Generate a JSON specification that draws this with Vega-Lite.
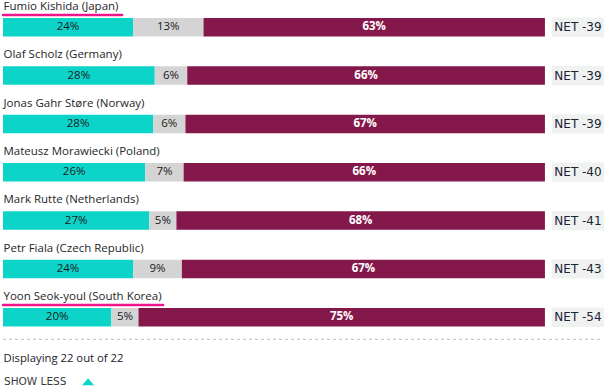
{
  "$schema": "https://vega.github.io/schema/vega-lite/v6.json",
  "autosize": "none",
  "width": 601,
  "height": 386.67,
  "padding": {"left": 3, "top": 0, "right": 6, "bottom": 5.33},
  "background": "white",
  "config": {"view": {"stroke": null}},
  "datasets": {
    "segments": [
      {"name": "Fumio Kishida (Japan)", "k": 1, "pct": 0.24},
      {"name": "Fumio Kishida (Japan)", "k": 2, "pct": 0.13},
      {"name": "Fumio Kishida (Japan)", "k": 3, "pct": 0.63},
      {"name": "Olaf Scholz (Germany)", "k": 1, "pct": 0.28},
      {"name": "Olaf Scholz (Germany)", "k": 2, "pct": 0.06},
      {"name": "Olaf Scholz (Germany)", "k": 3, "pct": 0.66},
      {"name": "Jonas Gahr Støre (Norway)", "k": 1, "pct": 0.28},
      {"name": "Jonas Gahr Støre (Norway)", "k": 2, "pct": 0.06},
      {"name": "Jonas Gahr Støre (Norway)", "k": 3, "pct": 0.67},
      {"name": "Mateusz Morawiecki (Poland)", "k": 1, "pct": 0.26},
      {"name": "Mateusz Morawiecki (Poland)", "k": 2, "pct": 0.07},
      {"name": "Mateusz Morawiecki (Poland)", "k": 3, "pct": 0.66},
      {"name": "Mark Rutte (Netherlands)", "k": 1, "pct": 0.27},
      {"name": "Mark Rutte (Netherlands)", "k": 2, "pct": 0.05},
      {"name": "Mark Rutte (Netherlands)", "k": 3, "pct": 0.68},
      {"name": "Petr Fiala (Czech Republic)", "k": 1, "pct": 0.24},
      {"name": "Petr Fiala (Czech Republic)", "k": 2, "pct": 0.09},
      {"name": "Petr Fiala (Czech Republic)", "k": 3, "pct": 0.67},
      {"name": "Yoon Seok-youl (South Korea)", "k": 1, "pct": 0.20},
      {"name": "Yoon Seok-youl (South Korea)", "k": 2, "pct": 0.05},
      {"name": "Yoon Seok-youl (South Korea)", "k": 3, "pct": 0.75}
    ],
    "leaders": [
      {"name": "Fumio Kishida (Japan)", "net": -39, "highlight": true},
      {"name": "Olaf Scholz (Germany)", "net": -39, "highlight": false},
      {"name": "Jonas Gahr Støre (Norway)", "net": -39, "highlight": false},
      {"name": "Mateusz Morawiecki (Poland)", "net": -40, "highlight": false},
      {"name": "Mark Rutte (Netherlands)", "net": -41, "highlight": false},
      {"name": "Petr Fiala (Czech Republic)", "net": -43, "highlight": false},
      {"name": "Yoon Seok-youl (South Korea)", "net": -54, "highlight": true}
    ],
    "footer": [
      {"name": "footer", "text": "Displaying 22 out of 22", "button": "SHOW LESS"}
    ]
  },
  "encoding": {
    "y": {
      "field": "name",
      "type": "nominal",
      "axis": null,
      "sort": null,
      "scale": {
        "domain": [
          "Fumio Kishida (Japan)",
          "Olaf Scholz (Germany)",
          "Jonas Gahr Støre (Norway)",
          "Mateusz Morawiecki (Poland)",
          "Mark Rutte (Netherlands)",
          "Petr Fiala (Czech Republic)",
          "Yoon Seok-youl (South Korea)",
          "footer"
        ],
        "paddingInner": 0,
        "paddingOuter": 0
      }
    }
  },
  "layer": [
    {
      "data": {"name": "segments"},
      "mark": {"type": "bar", "height": {"band": 0.383}, "yOffset": 3.1},
      "encoding": {
        "x": {
          "field": "pct",
          "type": "quantitative",
          "stack": "normalize",
          "axis": null,
          "scale": {"domain": [0, 1.109], "nice": false, "zero": false}
        },
        "order": {"field": "k", "type": "quantitative"},
        "color": {
          "field": "k",
          "type": "nominal",
          "legend": null,
          "scale": {"domain": [1, 2, 3], "range": ["#0dd4c9", "#d4d4d4", "#84184a"]}
        }
      }
    },
    {
      "data": {"name": "segments"},
      "mark": {"type": "text", "font": "Open Sans", "fontSize": 11.5, "color": "#1a1a1a", "baseline": "middle", "yOffset": 3.1},
      "encoding": {
        "x": {"field": "pct", "type": "quantitative", "stack": "normalize", "bandPosition": 0.5},
        "order": {"field": "k", "type": "quantitative"},
        "text": {"field": "pct", "type": "quantitative", "format": ".0%"},
        "opacity": {"condition": {"test": "datum.k === 3", "value": 0}, "value": 1}
      }
    },
    {
      "data": {"name": "segments"},
      "mark": {"type": "text", "font": "Open Sans", "fontSize": 11.5, "fontWeight": "bold", "color": "white", "baseline": "middle", "yOffset": 3.1},
      "encoding": {
        "x": {"field": "pct", "type": "quantitative", "stack": "normalize", "bandPosition": 0.5},
        "order": {"field": "k", "type": "quantitative"},
        "text": {"field": "pct", "type": "quantitative", "format": ".0%"},
        "opacity": {"condition": {"test": "datum.k === 3", "value": 1}, "value": 0}
      }
    },
    {
      "data": {"name": "leaders"},
      "mark": {"type": "bar", "height": {"band": 0.4}, "yOffset": 3.1, "color": "#f0f2f2"},
      "encoding": {
        "x": {"datum": 1.0125},
        "x2": {"datum": 1.109}
      }
    },
    {
      "data": {"name": "leaders"},
      "mark": {"type": "text", "font": "DejaVu Sans", "fontSize": 12, "color": "#1b2635", "baseline": "middle", "align": "center", "yOffset": 3.1, "text": {"expr": "'NET ' + datum.net"}},
      "encoding": {
        "x": {"datum": 1.061}
      }
    },
    {
      "data": {"name": "leaders"},
      "transform": [{"filter": "datum.highlight"}],
      "mark": {"type": "rule", "color": "#f0148c", "strokeWidth": 2.5, "strokeCap": "round"},
      "encoding": {
        "y": {"field": "name", "type": "nominal", "bandPosition": 0.31},
        "x": {"datum": 0},
        "x2": {"value": {"expr": "length(datum.name) * 5.86 - 4"}}
      }
    },
    {
      "data": {"name": "leaders"},
      "mark": {"type": "text", "font": "Open Sans", "fontSize": 11.5, "color": "#262626", "baseline": "alphabetic", "align": "left", "dx": 0.5},
      "encoding": {
        "y": {"field": "name", "type": "nominal", "bandPosition": 0.205},
        "x": {"datum": 0},
        "text": {"field": "name"}
      }
    },
    {
      "data": {"name": "footer"},
      "mark": {"type": "rule", "color": "#bbbbbb", "strokeWidth": 1, "strokeDash": [3, 3]},
      "encoding": {
        "y": {"field": "name", "type": "nominal", "bandPosition": 0.02},
        "x": {"datum": 0},
        "x2": {"datum": 1.1015}
      }
    },
    {
      "data": {"name": "footer"},
      "mark": {"type": "text", "font": "Open Sans", "fontSize": 11.3, "color": "#1a1a2a", "baseline": "middle", "align": "left", "dx": 0.5},
      "encoding": {
        "y": {"field": "name", "type": "nominal", "bandPosition": 0.42},
        "x": {"datum": 0},
        "text": {"field": "text"}
      }
    },
    {
      "data": {"name": "footer"},
      "mark": {"type": "text", "font": "DejaVu Sans", "fontSize": 10.5, "color": "#3a3a3a", "baseline": "middle", "align": "left", "dx": 1},
      "encoding": {
        "y": {"field": "name", "type": "nominal", "bandPosition": 0.9},
        "x": {"datum": 0},
        "text": {"field": "button"}
      }
    },
    {
      "data": {"name": "footer"},
      "mark": {"type": "point", "shape": "M-1,0.58L0,-0.58L1,0.58Z", "size": 144, "filled": true, "color": "#0dd4c9", "opacity": 1, "strokeWidth": 0},
      "encoding": {
        "y": {"field": "name", "type": "nominal", "bandPosition": 0.9},
        "x": {"datum": 0.157}
      }
    }
  ]
}
